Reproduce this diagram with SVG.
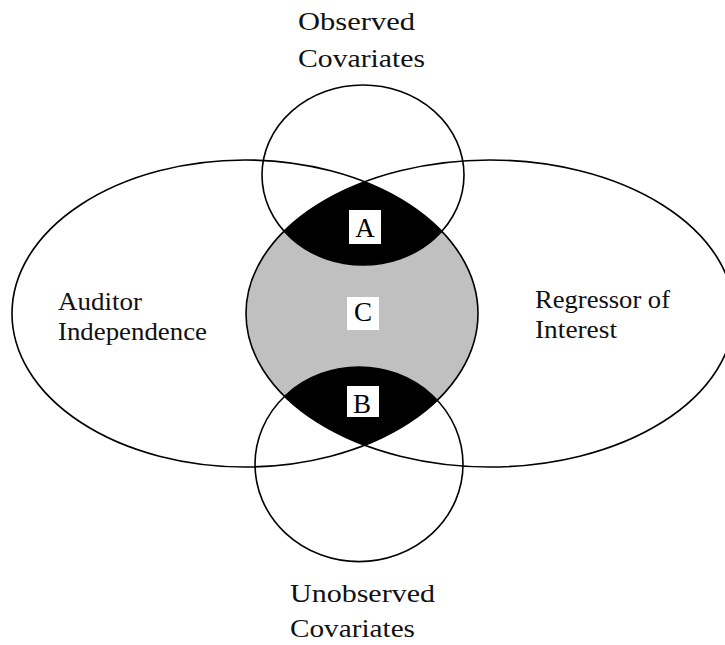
<svg xmlns="http://www.w3.org/2000/svg" width="725" height="645" viewBox="0 0 725 645">
<style>
.o{fill:none;stroke:#000;stroke-width:1.6}
.t{font-family:"Liberation Serif","Times New Roman",serif;font-size:26px;fill:#111}
.l{font-family:"Liberation Serif","Times New Roman",serif;font-size:27px;fill:#000;text-anchor:middle}
.box{fill:#fff}
</style>
<defs>
<ellipse id="eL" cx="245" cy="313.5" rx="233" ry="153.5"/>
<ellipse id="eR" cx="490" cy="313.5" rx="244" ry="153.5"/>
<ellipse id="cT" cx="363" cy="175" rx="101" ry="90"/>
<ellipse id="cB" cx="359" cy="464.3" rx="104" ry="97.3"/>
<clipPath id="clipL"><use href="#eL"/></clipPath>
<clipPath id="clipR"><use href="#eR"/></clipPath>
</defs>
<rect width="725" height="645" fill="#fff"/>
<g id="fills" clip-path="url(#clipL)">
<g clip-path="url(#clipR)">
<rect x="0" y="0" width="725" height="645" fill="#c0c0c0"/>
<use href="#cT" fill="#000"/>
<use href="#cB" fill="#000"/>
</g>
</g>
<g id="auditor-independence">
<use href="#eL" class="o"/>
<text class="t" x="58" y="310" textLength="84" lengthAdjust="spacingAndGlyphs">Auditor</text>
<text class="t" x="58" y="340" textLength="149" lengthAdjust="spacingAndGlyphs">Independence</text>
</g>
<g id="regressor-of-interest">
<use href="#eR" class="o"/>
<text class="t" x="535" y="308" textLength="135" lengthAdjust="spacingAndGlyphs">Regressor of</text>
<text class="t" x="535" y="338" textLength="82" lengthAdjust="spacingAndGlyphs">Interest</text>
</g>
<g id="observed-covariates">
<use href="#cT" class="o"/>
<text class="t" x="298" y="30" textLength="117" lengthAdjust="spacingAndGlyphs">Observed</text>
<text class="t" x="298" y="66.5" textLength="127" lengthAdjust="spacingAndGlyphs">Covariates</text>
</g>
<g id="unobserved-covariates">
<use href="#cB" class="o"/>
<text class="t" x="290" y="601.5" textLength="145" lengthAdjust="spacingAndGlyphs">Unobserved</text>
<text class="t" x="290" y="636.5" textLength="125" lengthAdjust="spacingAndGlyphs">Covariates</text>
</g>
<g id="label-A">
<rect class="box" x="349" y="210" width="32" height="34"/>
<text class="l" x="365" y="236.5">A</text>
</g>
<g id="label-C">
<rect class="box" x="347" y="297" width="32" height="33"/>
<text class="l" x="363" y="321">C</text>
</g>
<g id="label-B">
<rect class="box" x="347" y="386" width="32" height="31"/>
<text class="l" x="362" y="412.5">B</text>
</g>
<g id="connectors"/>
</svg>
